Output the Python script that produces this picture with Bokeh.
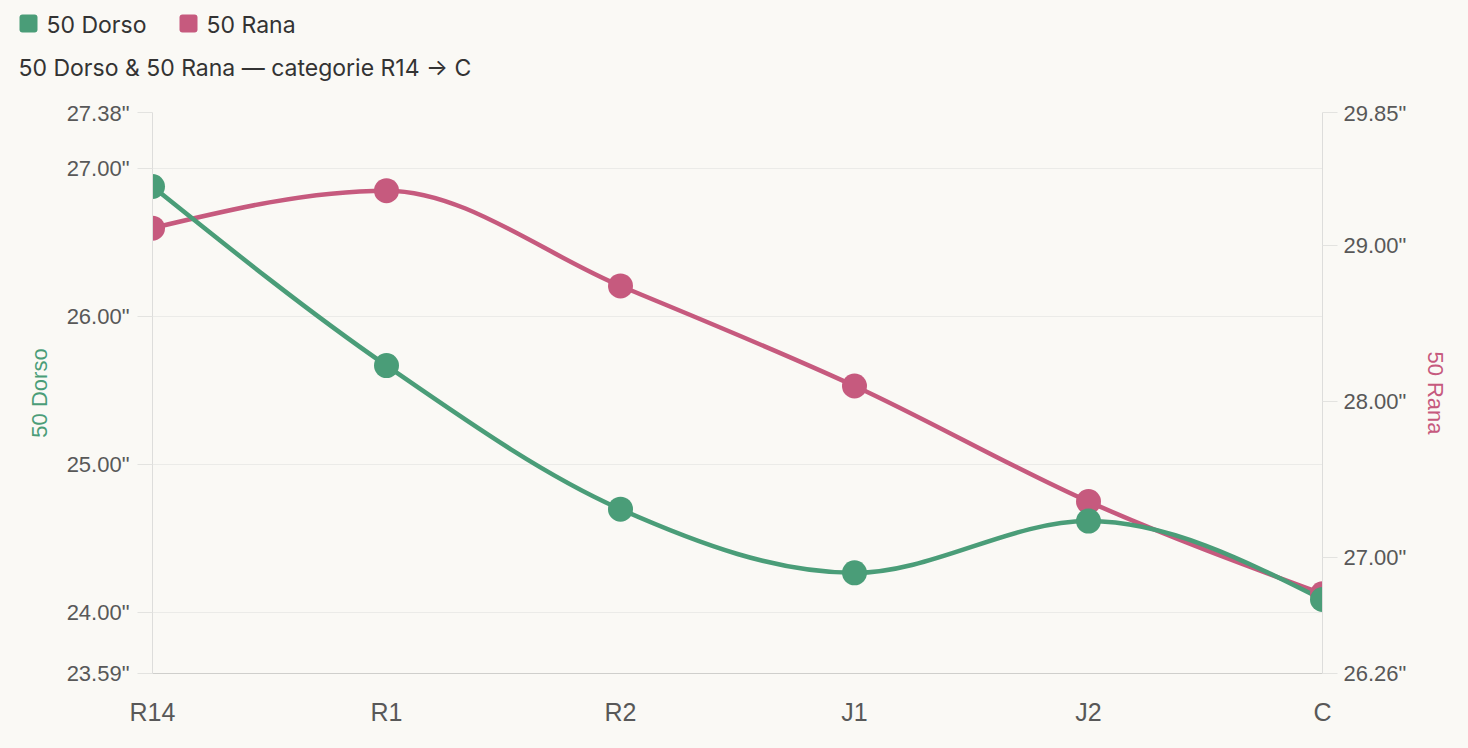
import numpy as np
from bokeh.plotting import figure
from bokeh.layouts import column
from bokeh.models import Range1d, LinearAxis, FixedTicker, PrintfTickFormatter
from bokeh.core.properties import value
from bokeh.embed import file_html
from bokeh.resources import INLINE

categories = ["R14", "R1", "R2", "J1", "J2", "C"]
series_names = ["50 Dorso", "50 Rana"]
dorso = [26.88, 25.67, 24.70, 24.27, 24.62, 24.09]
rana = [29.11, 29.35, 28.74, 28.10, 27.36, 26.77]
left_ticks = [23.59, 24.00, 25.00, 26.00, 27.00, 27.38]
right_ticks = [26.26, 27.00, 28.00, 29.00, 29.85]
title_text = "50 Dorso & 50 Rana — categorie R14 → C"

GREEN = "#4a9d78"
PINK = "#c65a7e"
BG = "#faf9f5"
FONT = "Liberation Sans"
TFONT = "Inter"
TICK_COLOR = "#585858"

W = 1468
TOP_H = 100
H = 748 - TOP_H

# ---------- header (legend + title) ----------
top = figure(width=W, height=TOP_H, output_backend="svg", toolbar_location=None,
             x_range=Range1d(0, W), y_range=Range1d(TOP_H, 0),
             min_border=0, min_border_left=0, min_border_right=0,
             min_border_top=0, min_border_bottom=0)
top.frame_align = False
top.axis.visible = False
top.grid.visible = False
top.outline_line_color = None
top.background_fill_color = BG
top.border_fill_color = BG

sw_left = [19, 179]
top.quad(left=sw_left, right=[v + 18 for v in sw_left], top=[14, 14], bottom=[32, 32],
         fill_color=[GREEN, PINK], line_color=None, border_radius=3)
top.text([46, 206], [24, 24], text=series_names, text_font=value(TFONT),
         text_font_size="23px", text_color="#333333", text_baseline="middle")
top.text([18], [67], text=[title_text], text_font=value(TFONT),
         text_font_size="23px", text_color="#333333", text_baseline="middle")

# ---------- main chart ----------
p = figure(width=W, height=H, output_backend="svg", toolbar_location=None,
           x_range=Range1d(0, len(categories) - 1),
           y_range=Range1d(left_ticks[0], left_ticks[-1]),
           min_border_left=152, min_border_right=146, min_border_top=12,
           min_border_bottom=75)
p.frame_align = False
p.background_fill_color = BG
p.border_fill_color = BG
p.outline_line_color = None
p.extra_y_ranges = {"rana": Range1d(right_ticks[0], right_ticks[-1])}

xs = list(range(len(categories)))

# x axis
p.xaxis.ticker = FixedTicker(ticks=xs)
p.xaxis.major_label_overrides = {i: c for i, c in enumerate(categories)}
p.xaxis.major_tick_line_color = None
p.xaxis.minor_tick_line_color = None
p.xaxis.axis_line_color = "#cfcfcc"
p.xaxis.major_label_text_font = FONT
p.xaxis.major_label_text_font_size = "25px"
p.xaxis.major_label_text_color = TICK_COLOR
p.xaxis.major_label_standoff = 18
p.xgrid.grid_line_color = None

# left axis
ya = p.yaxis[0]
ya.ticker = FixedTicker(ticks=left_ticks)
ya.formatter = PrintfTickFormatter(format='%.2f"')
ya.axis_line_color = "#dddddb"
ya.major_tick_line_color = "#e3e3e0"
ya.major_tick_out = 15
ya.major_tick_in = 0
ya.minor_tick_line_color = None
ya.major_label_text_font = FONT
ya.major_label_text_font_size = "22px"
ya.major_label_text_color = TICK_COLOR
ya.major_label_standoff = 8
ya.axis_label = series_names[0]
ya.axis_label_text_color = GREEN
ya.axis_label_text_font = FONT
ya.axis_label_text_font_style = "normal"
ya.axis_label_text_font_size = "22px"
ya.axis_label_standoff = 12
p.ygrid.ticker = FixedTicker(ticks=left_ticks)
p.ygrid.grid_line_color = "#ebebe8"

# right axis
ra = LinearAxis(y_range_name="rana", ticker=FixedTicker(ticks=right_ticks),
                formatter=PrintfTickFormatter(format='%.2f"'))
ra.axis_line_color = "#dddddb"
ra.major_tick_line_color = "#e3e3e0"
ra.major_tick_out = 15
ra.major_tick_in = 0
ra.minor_tick_line_color = None
ra.major_label_text_font = FONT
ra.major_label_text_font_size = "22px"
ra.major_label_text_color = TICK_COLOR
ra.major_label_standoff = 6
ra.axis_label = series_names[1]
ra.axis_label_text_color = PINK
ra.axis_label_text_font = FONT
ra.axis_label_text_font_style = "normal"
ra.axis_label_text_font_size = "22px"
ra.axis_label_standoff = 14
p.add_layout(ra, "right")


def monotone_x(x, y):
    """Bezier segments for a monotone-x curve through the points (d3 curveMonotoneX)."""
    x = np.asarray(x, float)
    y = np.asarray(y, float)
    n = len(x)
    h = np.diff(x)
    s = np.diff(y) / h
    t = np.zeros(n)
    for i in range(1, n - 1):
        h0, h1, s0, s1 = h[i - 1], h[i], s[i - 1], s[i]
        pp = (s0 * h1 + s1 * h0) / (h0 + h1)
        t[i] = (np.sign(s0) + np.sign(s1)) * min(abs(s0), abs(s1), 0.5 * abs(pp))
    t[0] = (3 * s[0] - t[1]) / 2
    t[-1] = (3 * s[-1] - t[-2]) / 2
    dx = h / 3
    return dict(x0=x[:-1], y0=y[:-1], x1=x[1:], y1=y[1:],
                cx0=x[:-1] + dx, cy0=y[:-1] + dx * t[:-1],
                cx1=x[1:] - dx, cy1=y[1:] - dx * t[1:])


p.bezier(**monotone_x(xs, rana), line_color=PINK, line_width=4.5, y_range_name="rana")
p.bezier(**monotone_x(xs, dorso), line_color=GREEN, line_width=4.5)

p.scatter(xs, rana, size=25, fill_color=PINK, line_color=None, y_range_name="rana")
p.scatter(xs, dorso, size=25, fill_color=GREEN, line_color=None)

layout = column(top, p, spacing=0, styles={"background-color": BG})
open("out.html", "w").write(file_html(layout, INLINE))
